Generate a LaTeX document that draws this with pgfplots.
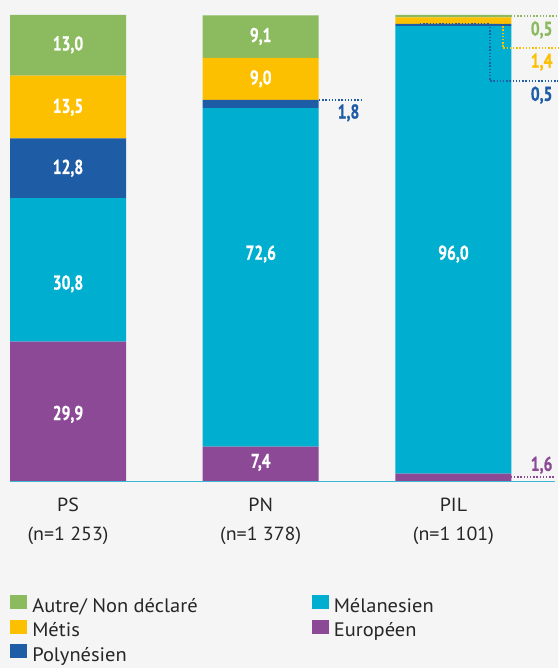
\documentclass[border=0pt]{standalone}
\usepackage{pgfplots}
\pgfplotsset{compat=1.18}
\usepackage{fontspec}
\setmainfont[FakeStretch=1.05]{PT Sans}
\newfontfamily\valfont[FakeStretch=0.78, BoldFeatures={FakeBold=0.6}]{PT Sans}
\definecolor{cA}{HTML}{8BBB5E}
\definecolor{cM}{HTML}{FDC000}
\definecolor{cP}{HTML}{1F5CA6}
\definecolor{cMel}{HTML}{00AECF}
\definecolor{cE}{HTML}{8C4A96}
\definecolor{bg}{HTML}{F5F5F5}
\definecolor{basec}{HTML}{3DB8D4}
\pgfplotsset{common/.style={at={(10pt,187pt)}, anchor=south west, scale only axis,
  width=545pt, height=466pt, xmin=-0.301, xmax=2.527, ymin=0, ymax=100, clip=false,
  axis line style={draw=none}, tick style={draw=none}, ytick=\empty, xtick=\empty}}
\tikzset{dots/.style={line width=1.4pt, dash pattern=on 1.4pt off 1.8pt},
  vlab/.style={font=\valfont\bfseries\fontsize{20}{22}\selectfont}}
\begin{document}
\begin{tikzpicture}[x=1pt,y=1pt]
\fill[bg] (0,0) rectangle (558,668);
\useasboundingbox (0,0) rectangle (558,668);
\begin{axis}[common, ybar stacked, bar width=116pt]
\addplot[fill=cE, draw=none] coordinates {(0,29.9) (1,7.4) (2,1.6)};
\addplot[fill=cMel, draw=none] coordinates {(0,30.8) (1,72.6) (2,96.0)};
\addplot[fill=cP, draw=none] coordinates {(0,12.8) (1,1.8) (2,0.5)};
\addplot[fill=cM, draw=none] coordinates {(0,13.5) (1,9.0) (2,1.4)};
\addplot[fill=cA, draw=none] coordinates {(0,13.0) (1,9.1) (2,0.5)};
\end{axis}
\begin{axis}[common, legend columns=2, legend cell align=left,
  legend style={draw=none, fill=none, inner sep=0pt, at={(0,0)}, anchor=north west, yshift=-114pt,
    font=\fontsize{19.5}{22}\selectfont, text=black!85,
    nodes={inner sep=0pt, text depth=4pt, text height=13pt}, row sep=3pt,
    /tikz/every even column/.append style={column sep=114pt},
    /tikz/every odd column/.append style={column sep=5.7pt}},
  legend image code/.code={\fill[#1] (0pt,-0.5pt) rectangle (16pt,12.6pt);}]
\addlegendimage{cA}\addlegendentry{Autre/ Non déclaré}
\addlegendimage{cMel}\addlegendentry{Mélanesien}
\addlegendimage{cM}\addlegendentry{Métis}
\addlegendimage{cE}\addlegendentry{Européen}
\addlegendimage{cP}\addlegendentry{Polynésien}
\draw[basec, line width=1pt] (axis cs:-0.301,-0.15) -- (axis cs:2.527,-0.15);
\addplot[forget plot, draw=none, mark=none, nodes near coords, point meta=explicit symbolic,
  nodes near coords style={anchor=base, inner sep=0pt, font=\fontsize{19}{20}\selectfont, text=black!85}]
  coordinates {(0,-6.5) [PS] (1,-6.5) [PN] (2,-6.5) [PIL]
  (0,-12.8) [(n=1 253)] (1,-12.8) [(n=1 378)] (2,-12.8) [(n=1 101)]};
\addplot[forget plot, draw=none, mark=none, nodes near coords, point meta=explicit symbolic,
  nodes near coords style={anchor=center, vlab, text=white}]
  coordinates {(0,93.6) [{13,0}] (0,80.2) [{13,5}] (0,67.1) [{12,8}] (0,42.3) [{30,8}] (0,14.3) [{29,9}]
  (1,95.4) [{9,1}] (1,86.3) [{9,0}] (1,48.7) [{72,6}] (1,4.0) [{7,4}] (2,48.7) [{96,0}]};
\addplot[forget plot, draw=none, mark=none, nodes near coords, point meta=explicit symbolic,
  nodes near coords style={anchor=east, vlab, text=cP}]
  coordinates {(1.530,79.0) [{1,8}] (2.532,82.8) [{0,5}]};
\addplot[forget plot, draw=none, mark=none, nodes near coords, point meta=explicit symbolic,
  nodes near coords style={anchor=east, vlab, text=cA}]
  coordinates {(2.532,96.8) [{0,5}]};
\addplot[forget plot, draw=none, mark=none, nodes near coords, point meta=explicit symbolic,
  nodes near coords style={anchor=east, vlab, text=cM}]
  coordinates {(2.532,89.9) [{1,4}]};
\addplot[forget plot, draw=none, mark=none, nodes near coords, point meta=explicit symbolic,
  nodes near coords style={anchor=east, vlab, text=cE}]
  coordinates {(2.532,3.4) [{1,6}]};
\draw[cP, dots] (axis cs:1.302,81.8) -- (axis cs:1.530,81.8);
\draw[cA, dots] (axis cs:2.298,99.8) -- (axis cs:2.542,99.8);
\draw[cM, dots] (axis cs:2.257,98.3) -- (axis cs:2.257,92.9) -- (axis cs:2.542,92.9);
\draw[cP, dots] (axis cs:1.826,98.2) -- (axis cs:2.189,98.2) -- (axis cs:2.189,85.8) -- (axis cs:2.542,85.8);
\draw[cE, dots] (axis cs:2.298,0.9) -- (axis cs:2.527,0.9);
\end{axis}
\end{tikzpicture}
\end{document}
